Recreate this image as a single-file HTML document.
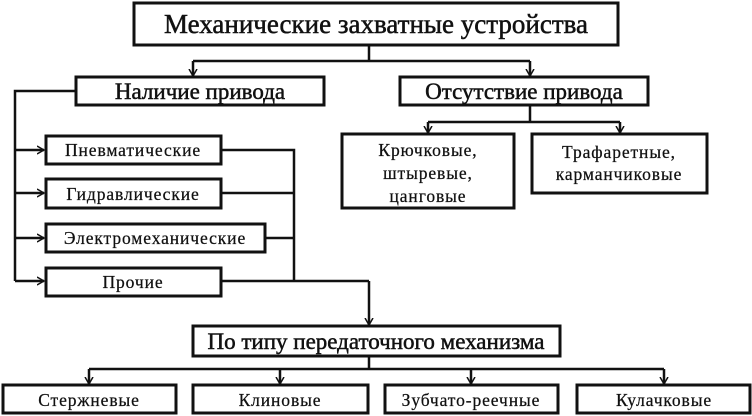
<!DOCTYPE html>
<html><head><meta charset="utf-8"><style>
html,body{margin:0;padding:0;background:#fff;}
svg{display:block;}
text{font-family:"Liberation Serif",serif;fill:#111;}
.b{font-size:23px;stroke:#111;stroke-width:0.5px;}
.s{font-size:17.5px;letter-spacing:0.9px;stroke:#111;stroke-width:0.25px;}
</style></head><body>
<svg width="752" height="416" viewBox="0 0 752 416" xmlns="http://www.w3.org/2000/svg">
<defs><marker id="a" markerWidth="8" markerHeight="10" refX="7" refY="5" orient="auto" markerUnits="userSpaceOnUse"><path d="M0,1 L7,5 L0,9" fill="none" stroke="#111" stroke-width="1.5"/></marker></defs>
<g fill="none" stroke="#111" stroke-width="3">
<rect x="134" y="3" width="484" height="42"/>
<rect x="76" y="77" width="248" height="28"/>
<rect x="400" y="77" width="248" height="28"/>
<rect x="342" y="134" width="172" height="74"/>
<rect x="532" y="134" width="175" height="59"/>
<rect x="46" y="136" width="175" height="28"/>
<rect x="46" y="179" width="175" height="29"/>
<rect x="46" y="224" width="219" height="28"/>
<rect x="46" y="268" width="175" height="28"/>
<rect x="193" y="326" width="367" height="30"/>
<rect x="3" y="385" width="173" height="28"/>
<rect x="193" y="385" width="175" height="28"/>
<rect x="385" y="385" width="173" height="28"/>
<rect x="577" y="385" width="173" height="28"/>
</g>
<g fill="none" stroke="#111" stroke-width="2.5">
<path d="M369,45 V61 M193,61 H530"/>
<path d="M193,61 V76" marker-end="url(#a)"/>
<path d="M530,61 V76" marker-end="url(#a)"/>
<path d="M530,105 V122 M428,122 H620"/>
<path d="M428,122 V133" marker-end="url(#a)"/>
<path d="M620,122 V133" marker-end="url(#a)"/>
<path d="M75,91 H15 V281"/>
<path d="M15,150 H44" marker-end="url(#a)"/>
<path d="M15,193 H44" marker-end="url(#a)"/>
<path d="M15,238 H44" marker-end="url(#a)"/>
<path d="M15,281 H44" marker-end="url(#a)"/>
<path d="M222,150 H294 V281 M222,193 H294 M266,238 H294 M222,281 H369"/>
<path d="M369,281 V325" marker-end="url(#a)"/>
<path d="M369,356 V369 M89,369 H664"/>
<path d="M89,369 V384" marker-end="url(#a)"/>
<path d="M280,369 V384" marker-end="url(#a)"/>
<path d="M471,369 V384" marker-end="url(#a)"/>
<path d="M664,369 V384" marker-end="url(#a)"/>
</g>
<g text-anchor="middle">
<text x="376" y="33" style="font-size:27px;stroke:#111;stroke-width:0.5px">Механические захватные устройства</text>
<text x="200" y="99" class="b">Наличие привода</text>
<text x="524" y="99" class="b">Отсутствие привода</text>
<text x="376" y="349" class="b">По типу передаточного механизма</text>
<text x="428" y="156" class="s">Крючковые,</text>
<text x="428" y="179" class="s">штыревые,</text>
<text x="428" y="202" class="s">цанговые</text>
<text x="619" y="158" class="s">Трафаретные,</text>
<text x="619" y="180" class="s">карманчиковые</text>
<text x="133" y="156" class="s">Пневматические</text>
<text x="133" y="200" class="s">Гидравлические</text>
<text x="155" y="244" class="s">Электромеханические</text>
<text x="133" y="288" class="s">Прочие</text>
<text x="89" y="406" class="s">Стержневые</text>
<text x="280" y="406" class="s">Клиновые</text>
<text x="471" y="406" class="s">Зубчато-реечные</text>
<text x="664" y="406" class="s">Кулачковые</text>
</g>
</svg>
</body></html>
